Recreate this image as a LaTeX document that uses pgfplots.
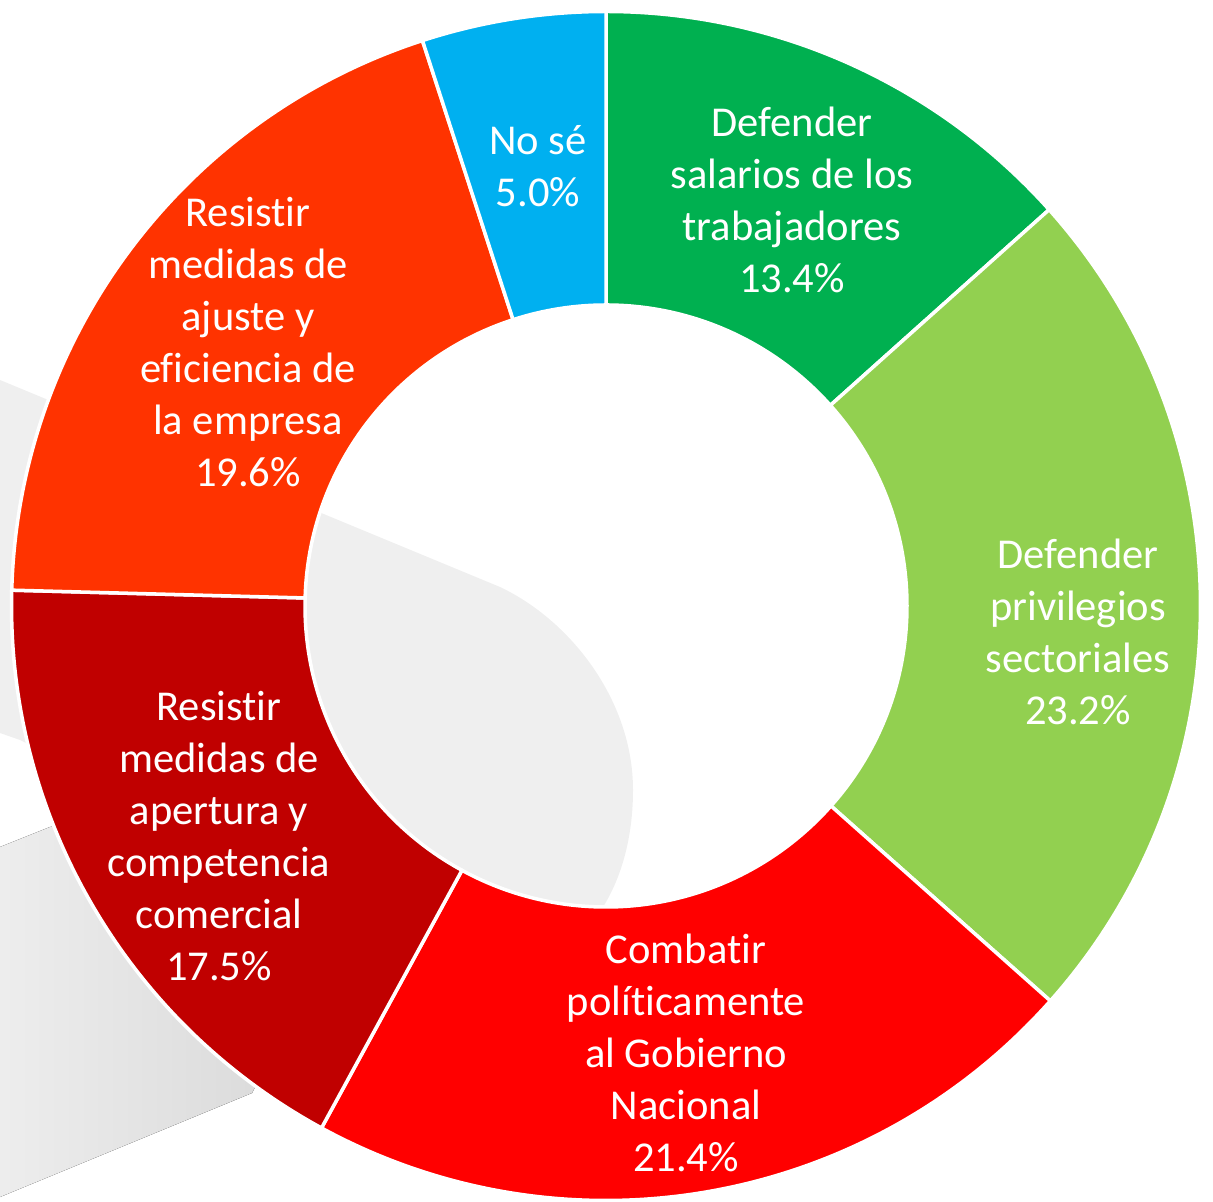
\documentclass[border=0pt]{standalone}
\usepackage{pgfplots}
\pgfplotsset{compat=1.18}
\usepackage{pgfplotstable}
\usepackage{fontspec}
\setmainfont{Carlito}[Ligatures=NoCommon]
\definecolor{c0}{HTML}{00B050}
\definecolor{c1}{HTML}{92D050}
\definecolor{c2}{HTML}{FF0000}
\definecolor{c3}{HTML}{C00000}
\definecolor{c4}{HTML}{FF3300}
\definecolor{c5}{HTML}{00B0F0}
\definecolor{bgA}{HTML}{EFEFEF}
\pgfplotstableread{
value
13.4
23.2
21.4
17.5
19.6
5.0
}\slices
\begin{document}
\begin{tikzpicture}
\xdef\total{0}
\foreach \i in {0,...,5}{%
  \pgfplotstablegetelem{\i}{value}\of\slices
  \pgfmathparse{\total+\pgfplotsretval}\xdef\total{\pgfmathresult}%
}
\xdef\cum{0}
\foreach \i in {0,...,5}{%
  \pgfplotstablegetelem{\i}{value}\of\slices
  \pgfmathparse{90-\cum/\total*360}\expandafter\xdef\csname sa\i\endcsname{\pgfmathresult}%
  \pgfmathparse{\cum+\pgfplotsretval}\xdef\cum{\pgfmathresult}%
  \pgfmathparse{90-\cum/\total*360}\expandafter\xdef\csname ea\i\endcsname{\pgfmathresult}%
}
\begin{axis}[
  scale only axis, width=121.3mm, height=120.1mm,
  xmin=0, xmax=1213, ymin=0, ymax=1201,
  hide axis, clip=false,
]
% decorative background shapes
\fill[bgA] (axis cs:0,821) -- (axis cs:500,614)
  .. controls (axis cs:570,581) and (axis cs:633,501) .. (axis cs:633,411)
  .. controls (axis cs:633,361) and (axis cs:620,321) .. (axis cs:603,294)
  -- (axis cs:560,201) -- (axis cs:20,461) -- (axis cs:0,468) -- cycle;
\fill[left color=black!7, right color=black!15] (axis cs:0,354) -- (axis cs:50,374)
  -- (axis cs:200,401) -- (axis cs:300,201) -- (axis cs:252,108) -- (axis cs:0,4) -- cycle;
% donut
\pgfplotsinvokeforeach{0,...,5}{%
  \fill[c#1, draw=white, line width=1pt] (axis cs:606,595)
    ++(\csname sa#1\endcsname:59.45mm)
    arc[start angle=\csname sa#1\endcsname, end angle=\csname ea#1\endcsname, radius=59.45mm]
    -- ++(\csname ea#1\endcsname+180:29.35mm)
    arc[start angle=\csname ea#1\endcsname, end angle=\csname sa#1\endcsname, radius=30.1mm]
    -- cycle;
}
\begin{scope}[every node/.style={text=white, align=center, font=\fontsize{12.1pt}{14.8pt}\selectfont}]
\node at (axis cs:792,1001) {Defender\\salarios de los\\trabajadores\\13.4\%};
\node at (axis cs:1078,569) {Defender\\privilegios\\sectoriales\\23.2\%};
\node at (axis cs:686,148) {Combatir\\políticamente\\al Gobierno\\Nacional\\21.4\%};
\node at (axis cs:219,365) {Resistir\\medidas de\\apertura y\\competencia\\comercial\\17.5\%};
\node at (axis cs:248,859) {Resistir\\medidas de\\ajuste y\\eficiencia de\\la empresa\\19.6\%};
\node at (axis cs:538,1035) {No sé\\5.0\%};
\end{scope}
\end{axis}
\pgfresetboundingbox
\useasboundingbox (current axis.south west) rectangle (current axis.north east);
\end{tikzpicture}
\end{document}
